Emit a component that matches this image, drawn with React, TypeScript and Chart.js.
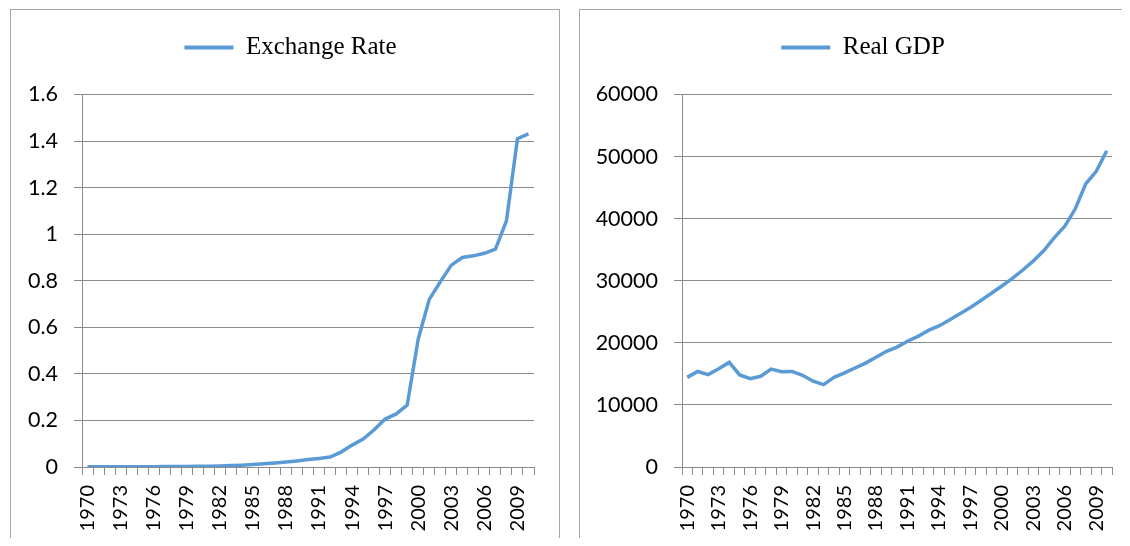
import React, { useEffect, useRef } from "react";
import { Chart, registerables } from "chart.js";

Chart.register(...registerables);

const years: string[] = [
  "1970","1971","1972","1973","1974","1975","1976","1977","1978","1979",
  "1980","1981","1982","1983","1984","1985","1986","1987","1988","1989",
  "1990","1991","1992","1993","1994","1995","1996","1997","1998","1999",
  "2000","2001","2002","2003","2004","2005","2006","2007","2008","2009","2010",
];

const exchangeRate: number[] = [
  0.0007, 0.0007, 0.0008, 0.0009, 0.001, 0.0012, 0.0015, 0.0018, 0.002, 0.0025,
  0.003, 0.0035, 0.0045, 0.006, 0.008, 0.011, 0.014, 0.017, 0.021, 0.026,
  0.032, 0.037, 0.043, 0.064, 0.094, 0.12, 0.16, 0.206, 0.228, 0.266,
  0.55, 0.72, 0.795, 0.867, 0.9, 0.907, 0.918, 0.936, 1.057, 1.41, 1.431,
];

const realGDP: number[] = [
  14440, 15390, 14890, 15840, 16850, 14830, 14220, 14610, 15780, 15340,
  15390, 14780, 13820, 13260, 14440, 15170, 15950, 16730, 17690, 18640,
  19310, 20260, 21040, 22000, 22720, 23680, 24680, 25690, 26810, 27980,
  29160, 30390, 31730, 33190, 34870, 36940, 38790, 41590, 45620, 47630, 50930,
];

const exchangeTicks = { min: 0, max: 1.6, step: 0.2 };
const gdpTicks = { min: 0, max: 60000, step: 10000 };

const LINE_COLOR = "#5B9BD5";
const GRID_COLOR = "#8c8c8c";
const X_TICK_FONT = { family: "Lato, 'Open Sans', sans-serif", size: 20 };
const Y_TICK_FONT = { family: "Lato, 'Open Sans', sans-serif", size: 21.5 };
const LEGEND_FONT = { family: "'Liberation Serif', 'Times New Roman', serif", size: 25 };

const legendSpacer = {
  id: "legendSpacer",
  beforeLayout(chart: any, _args: any, opts: any) {
    const lg = chart.legend;
    if (lg && !lg._spacerPatched) {
      const orig = lg.fit.bind(lg);
      lg.fit = function () {
        orig();
        this.height += opts.extra || 0;
      };
      lg._spacerPatched = true;
    }
  },
  afterLayout(chart: any, _args: any, opts: any) {
    const lg = chart.legend;
    if (lg && opts.shift) {
      lg.left += opts.shift;
      lg.right += opts.shift;
    }
  },
};

type PanelProps = {
  label: string;
  values: number[];
  range: { min: number; max: number; step: number };
  width: number;
  height: number;
  padRight: number;
  yAxisWidth: number;
  legendShift: number;
  numberFormat: (v: number) => string;
};

function LinePanel(props: PanelProps) {
  const ref = useRef<HTMLCanvasElement | null>(null);
  useEffect(() => {
    if (!ref.current) return;
    const chart = new Chart(ref.current, {
      type: "line",
      data: {
        labels: years,
        datasets: [
          {
            label: props.label,
            data: props.values,
            borderColor: LINE_COLOR,
            backgroundColor: LINE_COLOR,
            borderWidth: 3.5,
            pointRadius: 0,
            tension: 0,
          },
        ],
      },
      plugins: [legendSpacer as any],
      options: {
        responsive: false,
        animation: false,
        layout: { padding: { top: 15, left: 0, right: props.padRight, bottom: 0 } },
        plugins: {
          legendSpacer: { extra: 24.5, shift: props.legendShift },
          tooltip: { enabled: false },
          legend: {
            position: "top",
            labels: {
              font: LEGEND_FONT,
              color: "#000",
              boxWidth: 49,
              boxHeight: 4,
              padding: 10,
              generateLabels: () => [
                {
                  text: props.label,
                  fillStyle: LINE_COLOR,
                  strokeStyle: LINE_COLOR,
                  lineWidth: 0,
                  hidden: false,
                  datasetIndex: 0,
                } as any,
              ],
            },
          },
        } as any,
        scales: {
          x: {
            type: "category",
            offset: true,
            grid: {
              offset: true,
              drawOnChartArea: false,
              drawTicks: true,
              tickLength: 8,
              color: GRID_COLOR,
            },
            border: { color: GRID_COLOR },
            ticks: {
              autoSkip: false,
              maxRotation: 90,
              minRotation: 90,
              padding: 10,
              color: "#000",
              font: X_TICK_FONT,
              callback: (_v: any, i: number) => (i % 3 === 0 ? years[i] : ""),
            },
            afterFit: (scale: any) => {
              scale.height = 79;
              scale.paddingLeft = 0;
              scale.paddingRight = 0;
            },
          },
          y: {
            min: props.range.min,
            max: props.range.max,
            grid: { color: GRID_COLOR, tickLength: 8, drawTicks: true },
            border: { color: GRID_COLOR },
            ticks: {
              stepSize: props.range.step,
              padding: 16,
              color: "#000",
              font: Y_TICK_FONT,
              callback: (v: any) => props.numberFormat(Number(v)),
            },
            afterFit: (scale: any) => {
              scale.width = props.yAxisWidth;
            },
          },
        },
      } as any,
    });
    return () => chart.destroy();
  }, []);
  return (
    <canvas
      ref={ref}
      width={props.width}
      height={props.height}
      style={{ display: "block", width: props.width, height: props.height }}
    />
  );
}

const fmtRate = (v: number) => String(Math.round(v * 10) / 10);
const fmtGdp = (v: number) => String(Math.round(v));

export default function App() {
  const panelBase: React.CSSProperties = {
    position: "absolute",
    top: 1,
    boxSizing: "border-box",
    border: "1px solid #a6a6a6",
    borderBottom: "none",
    background: "#fff",
    height: 537,
    overflow: "hidden",
  };
  return (
    <div style={{ position: "relative", width: 1114, height: 530 }}>
      <div style={{ ...panelBase, left: 2, width: 550 }}>
        <LinePanel
          label="Exchange Rate"
          values={exchangeRate}
          range={exchangeTicks}
          width={548}
          height={536}
          padRight={25}
          yAxisWidth={71}
          legendShift={18}
          numberFormat={fmtRate}
        />
      </div>
      <div style={{ ...panelBase, left: 571, width: 551, borderRight: "none" }}>
        <LinePanel
          label="Real GDP"
          values={realGDP}
          range={gdpTicks}
          width={550}
          height={536}
          padRight={18}
          yAxisWidth={102}
          legendShift={17}
          numberFormat={fmtGdp}
        />
      </div>
    </div>
  );
}
